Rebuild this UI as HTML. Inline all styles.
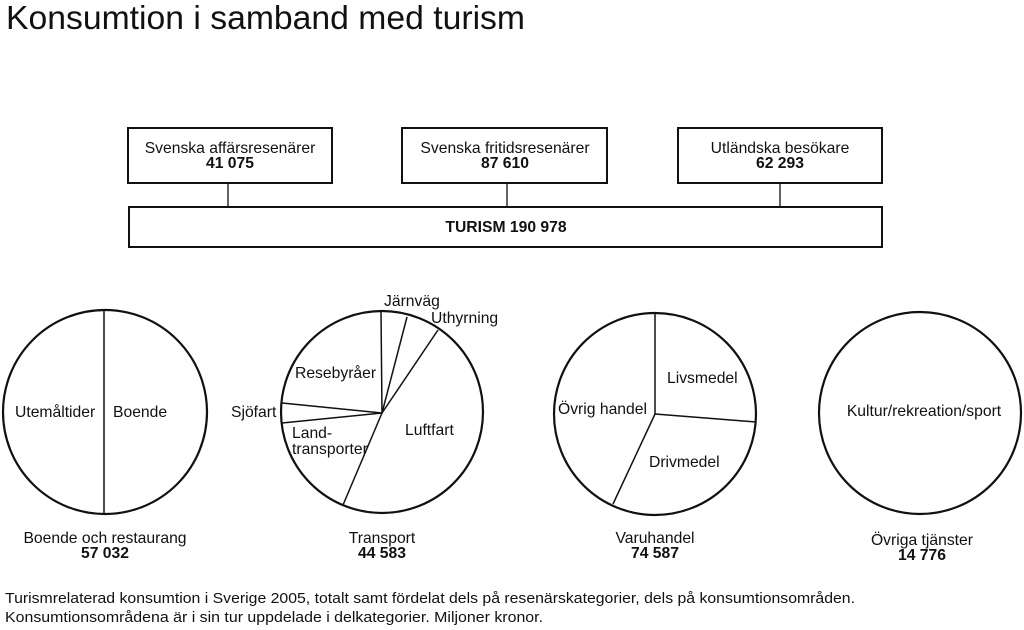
<!DOCTYPE html>
<html><head><meta charset="utf-8"><style>
html,body{margin:0;padding:0;background:#fff;}
svg{display:block;}
text{font-family:"Liberation Sans",Arial,sans-serif;fill:#111;font-size:15.7px;}
.b{font-weight:bold;}
</style></head><body>
<svg width="1024" height="630" viewBox="0 0 1024 630" xmlns="http://www.w3.org/2000/svg">
<text x="6" y="29" style="font-size:33px" textLength="519" lengthAdjust="spacingAndGlyphs">Konsumtion i samband med turism</text>

<g fill="none" stroke="#111" stroke-width="2">
<rect x="128" y="128" width="204" height="55"/>
<rect x="402" y="128" width="205" height="55"/>
<rect x="678" y="128" width="204" height="55"/>
<rect x="129" y="207" width="753" height="40"/>
</g>
<g stroke="#111" stroke-width="1.3">
<line x1="228" y1="183" x2="228" y2="207"/>
<line x1="507" y1="183" x2="507" y2="207"/>
<line x1="780" y1="183" x2="780" y2="207"/>
</g>
<text x="230" y="153" text-anchor="middle">Svenska affärsresenärer</text>
<text x="230" y="168" text-anchor="middle" class="b">41 075</text>
<text x="505" y="153" text-anchor="middle">Svenska fritidsresenärer</text>
<text x="505" y="168" text-anchor="middle" class="b">87 610</text>
<text x="780" y="153" text-anchor="middle">Utländska besökare</text>
<text x="780" y="168" text-anchor="middle" class="b">62 293</text>
<text x="506" y="232" text-anchor="middle" class="b">TURISM 190 978</text>

<g fill="none" stroke="#111" stroke-width="2.2">
<circle cx="105" cy="412" r="102"/>
<circle cx="382" cy="412" r="101"/>
<circle cx="655" cy="414" r="101"/>
<circle cx="920" cy="413" r="101"/>
</g>
<g stroke="#111" stroke-width="1.5">
<line x1="104" y1="310" x2="104" y2="514"/>
<line x1="382" y1="413" x2="381" y2="312"/>
<line x1="382" y1="413" x2="407" y2="317"/>
<line x1="382" y1="413" x2="438" y2="330"/>
<line x1="382" y1="413" x2="282" y2="403"/>
<line x1="382" y1="413" x2="282" y2="423"/>
<line x1="382" y1="413" x2="343" y2="505"/>
<line x1="655" y1="414" x2="655" y2="313"/>
<line x1="655" y1="414" x2="756" y2="422"/>
<line x1="655" y1="414" x2="613" y2="504"/>
</g>
<text x="15" y="417">Utemåltider</text>
<text x="113" y="417">Boende</text>
<text x="105" y="543" text-anchor="middle">Boende och restaurang</text>
<text x="105" y="558" text-anchor="middle" class="b">57 032</text>

<text x="384" y="306">Järnväg</text>
<text x="431" y="323">Uthyrning</text>
<text x="295" y="378">Resebyråer</text>
<text x="231" y="417">Sjöfart</text>
<text x="292" y="438">Land-</text>
<text x="292" y="454">transporter</text>
<text x="405" y="435">Luftfart</text>
<text x="382" y="543" text-anchor="middle">Transport</text>
<text x="382" y="558" text-anchor="middle" class="b">44 583</text>

<text x="667" y="383">Livsmedel</text>
<text x="558" y="414">Övrig handel</text>
<text x="649" y="467">Drivmedel</text>
<text x="655" y="543" text-anchor="middle">Varuhandel</text>
<text x="655" y="558" text-anchor="middle" class="b">74 587</text>

<text x="924" y="416" text-anchor="middle">Kultur/rekreation/sport</text>
<text x="922" y="545" text-anchor="middle">Övriga tjänster</text>
<text x="922" y="560" text-anchor="middle" class="b">14 776</text>

<text x="5" y="603" style="font-size:15px" textLength="850" lengthAdjust="spacingAndGlyphs">Turismrelaterad konsumtion i Sverige 2005, totalt samt fördelat dels på resenärskategorier, dels på konsumtionsområden.</text>
<text x="5" y="622" style="font-size:15px" textLength="538" lengthAdjust="spacingAndGlyphs">Konsumtionsområdena är i sin tur uppdelade i delkategorier. Miljoner kronor.</text>
</svg>
</body></html>
